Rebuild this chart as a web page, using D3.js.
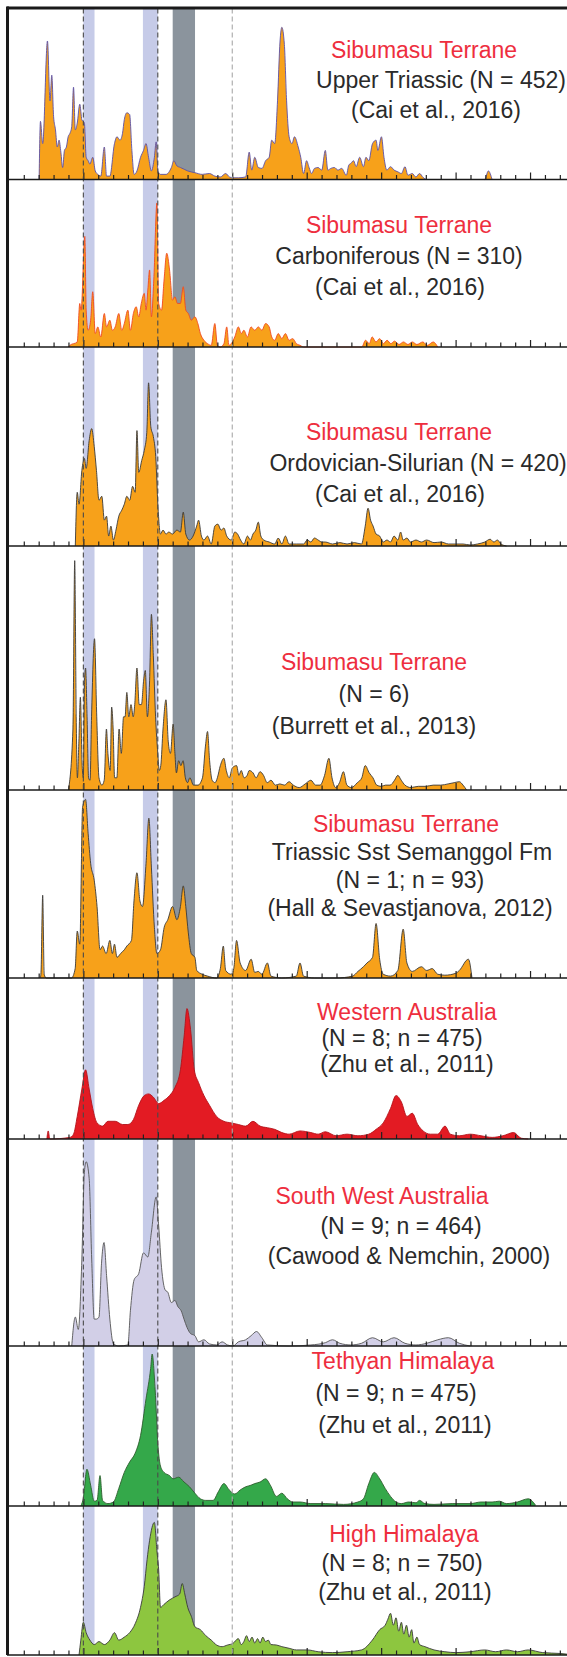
<!DOCTYPE html>
<html>
<head>
<meta charset="utf-8">
<script src="https://cdn.jsdelivr.net/npm/d3@7"></script>
<style>
  body { margin: 0; background: #fff; }
  text { font-family: "Liberation Sans", Arial, sans-serif; }
</style>
</head>
<body>
<script>
// detrital zircon age spectra, age in Ma vs relative probability (1 = full panel height)
const upperTriassic = [[203,0],[212,0.34],[227,0.21],[259,0.81],[276,0.46],[288,0.61],[300,0.37],[313,0.29],[325,0.19],[337,0.23],[349,0.16],[361,0.07],[373,0.17],[386,0.19],[398,0.25],[410,0.27],[422,0.31],[434,0.54],[446,0.29],[459,0.33],[476,0.44],[490,0.35],[507,0.33],[519,0.13],[532,0.11],[544,0.09],[563,0.13],[580,0.05],[597,0.03],[617,0.02],[641,0.19],[656,0.02],[678,0.02],[709,0.21],[726,0.25],[746,0.23],[763,0.27],[775,0.35],[792,0.39],[811,0.38],[826,0.17],[841,0.03],[860,0.05],[884,0.13],[904,0.17],[921,0.21],[938,0.13],[957,0.05],[977,0.13],[989,0.22],[1001,0.05],[1018,0.03],[1055,0.03],[1091,0.07],[1108,0.11],[1128,0.08],[1152,0.07],[1177,0.06],[1201,0.05],[1249,0.04],[1298,0.03],[1347,0.035],[1383,0.02],[1420,0.015],[1456,0.035],[1481,0.015],[1505,0.01],[1541,0.01],[1590,0.015],[1614,0.16],[1631,0.055],[1651,0.13],[1675,0.07],[1700,0.065],[1724,0.11],[1748,0.13],[1765,0.23],[1785,0.21],[1804,0.46],[1821,0.81],[1833,0.89],[1850,0.79],[1865,0.46],[1882,0.25],[1901,0.21],[1918,0.25],[1943,0.19],[1960,0.13],[1979,0.035],[1999,0.11],[2016,0.07],[2033,0.035],[2052,0.065],[2077,0.07],[2101,0.055],[2125,0.17],[2142,0.055],[2162,0.065],[2186,0.07],[2210,0.055],[2235,0.065],[2266,0.025],[2283,0.085],[2296,0.094],[2315,0.11],[2332,0.075],[2356,0.13],[2381,0.075],[2398,0.13],[2417,0.11],[2442,0.21],[2466,0.23],[2478,0.17],[2502,0.25],[2519,0.13],[2538,0.055],[2563,0.075],[2587,0.055],[2612,0.045],[2636,0.035],[2660,0.075],[2680,0.025],[2709,0.035],[2733,0.015],[2758,0.035],[2782,0.012],[2806,0],[3195,0],[3220,0.05],[3245,0]]

const carboniferous = [[400,0],[410,0.01],[459,0.03],[476,0.26],[485,0.22],[510,0.66],[519,0.22],[532,0.1],[549,0.16],[563,0.33],[580,0.08],[597,0.12],[617,0.06],[641,0.2],[656,0.12],[678,0.16],[695,0.1],[714,0.12],[738,0.2],[758,0.1],[775,0.14],[799,0.22],[816,0.1],[836,0.2],[855,0.24],[872,0.18],[889,0.26],[909,0.32],[921,0.22],[933,0.34],[945,0.46],[957,0.18],[974,0.42],[994,0.86],[1006,0.26],[1025,0.22],[1042,0.4],[1060,0.56],[1079,0.46],[1099,0.28],[1115,0.3],[1132,0.26],[1152,0.26],[1171,0.36],[1188,0.22],[1205,0.2],[1225,0.16],[1249,0.18],[1269,0.14],[1286,0.08],[1310,0.04],[1334,0.02],[1359,0.01],[1383,0.14],[1400,0.01],[1420,0],[1444,0.02],[1463,0.12],[1478,0.01],[1493,0.02],[1517,0.06],[1541,0.12],[1561,0.08],[1578,0.1],[1602,0.06],[1626,0.12],[1651,0.1],[1675,0.12],[1699,0.1],[1724,0.14],[1748,0.12],[1765,0.06],[1785,0.04],[1809,0.08],[1833,0.05],[1857,0.08],[1882,0.04],[1906,0.05],[1931,0.02],[1955,0.01],[1979,0],[2370,0],[2395,0.04],[2420,0.02],[2440,0.06],[2465,0.03],[2490,0.05],[2515,0.02],[2540,0.04],[2565,0.02],[2590,0.035],[2620,0.015],[2650,0.03],[2680,0.015],[2710,0.03],[2740,0.015],[2780,0.03],[2810,0.01],[2850,0.03],[2880,0]]

const ordovicianSilurian = [[446,0],[459,0.27],[471,0.21],[490,0.38],[507,0.44],[519,0.39],[539,0.53],[556,0.59],[573,0.5],[588,0.38],[605,0.23],[624,0.25],[641,0.13],[656,0.15],[670,0.05],[685,0.1],[702,0.03],[719,0.08],[738,0.15],[758,0.18],[775,0.21],[792,0.25],[811,0.23],[831,0.3],[848,0.27],[860,0.58],[872,0.37],[892,0.43],[909,0.48],[926,0.57],[938,0.82],[953,0.6],[970,0.55],[986,0.45],[1001,0.2],[1018,0.06],[1035,0.08],[1055,0.06],[1074,0.07],[1099,0.06],[1128,0.08],[1152,0.07],[1171,0.17],[1188,0.06],[1213,0.03],[1237,0.05],[1261,0.1],[1274,0.13],[1293,0.05],[1310,0.03],[1334,0.05],[1359,0.01],[1383,0.1],[1403,0.11],[1425,0.08],[1444,0.09],[1463,0.05],[1493,0.03],[1517,0.07],[1536,0.06],[1556,0.03],[1578,0.01],[1602,0.05],[1622,0.03],[1639,0.06],[1658,0.08],[1675,0.12],[1692,0.05],[1712,0.03],[1748,0.02],[1785,0.01],[1809,0.04],[1833,0.01],[1857,0.05],[1882,0.01],[1931,0.01],[1979,0.01],[2004,0.03],[2028,0.02],[2052,0.04],[2077,0.03],[2101,0.02],[2125,0.02],[2174,0.01],[2223,0.017],[2271,0.01],[2320,0.017],[2368,0.01],[2393,0.1],[2412,0.19],[2429,0.13],[2446,0.1],[2466,0.06],[2490,0.05],[2514,0.02],[2539,0.03],[2563,0.02],[2587,0.05],[2612,0.03],[2631,0.07],[2648,0.03],[2673,0.04],[2697,0.02],[2734,0.03],[2770,0.02],[2806,0.03],[2855,0.017],[2904,0.02],[2952,0.01],[3001,0.01],[3050,0.01],[3098,0.005],[3147,0.01],[3196,0.02],[3232,0.034],[3257,0.02],[3281,0.03],[3305,0.01],[3342,0]]

const burrett = [[400,0],[430,0.25],[442,0.94],[452,0.3],[460,0.05],[470,0.2],[480,0.38],[492,0.1],[500,0.05],[508,0.45],[515,0.5],[525,0.3],[535,0.05],[545,0.04],[555,0.3],[575,0.62],[590,0.3],[605,0.05],[625,0.02],[640,0.04],[655,0.25],[665,0.15],[680,0.08],[690,0.34],[700,0.25],[710,0.05],[725,0.05],[740,0.25],[755,0.15],[770,0.3],[780,0.3],[792,0.4],[805,0.3],[820,0.35],[835,0.3],[845,0.35],[860,0.5],[875,0.35],[890,0.35],[905,0.45],[916,0.49],[930,0.3],[945,0.45],[957,0.72],[970,0.55],[985,0.3],[1000,0.15],[1010,0.08],[1020,0.1],[1035,0.25],[1055,0.37],[1070,0.2],[1085,0.15],[1103,0.27],[1115,0.15],[1125,0.07],[1140,0.12],[1155,0.1],[1170,0.12],[1185,0.05],[1200,0.03],[1215,0.05],[1240,0.02],[1270,0.02],[1300,0.05],[1320,0.18],[1334,0.24],[1348,0.12],[1365,0.04],[1385,0.03],[1400,0.05],[1420,0.1],[1444,0.13],[1460,0.08],[1480,0.05],[1500,0.09],[1529,0.1],[1545,0.06],[1560,0.08],[1580,0.05],[1600,0.06],[1614,0.08],[1640,0.07],[1660,0.05],[1687,0.075],[1710,0.06],[1735,0.03],[1760,0.04],[1790,0.02],[1820,0.025],[1850,0.02],[1882,0.034],[1910,0.02],[1950,0.01],[1990,0.025],[2028,0.04],[2060,0.02],[2090,0.02],[2120,0.06],[2149,0.13],[2170,0.05],[2195,0.01],[2220,0.03],[2247,0.075],[2270,0.02],[2300,0.01],[2340,0.03],[2370,0.05],[2393,0.1],[2420,0.07],[2445,0.05],[2470,0.02],[2500,0.015],[2530,0.02],[2560,0.02],[2590,0.04],[2612,0.06],[2635,0.04],[2660,0.02],[2700,0.01],[2750,0.015],[2800,0.015],[2850,0.02],[2900,0.02],[2950,0.025],[2990,0.03],[3025,0.034],[3050,0.02],[3074,0]]

const semanggol = [[210,0],[215,0.02],[227,0.44],[237,0.02],[250,0],[420,0],[445,0.05],[459,0.25],[476,0.18],[495,0.91],[515,0.95],[532,0.77],[549,0.61],[573,0.52],[592,0.38],[612,0.15],[629,0.17],[653,0.13],[678,0.2],[695,0.13],[709,0.18],[726,0.11],[750,0.13],[775,0.15],[792,0.17],[823,0.2],[840,0.41],[860,0.56],[880,0.41],[897,0.38],[921,0.61],[940,0.85],[957,0.59],[977,0.27],[994,0.13],[1018,0.15],[1043,0.27],[1067,0.31],[1099,0.38],[1128,0.31],[1152,0.38],[1171,0.49],[1188,0.38],[1205,0.24],[1225,0.13],[1249,0.11],[1262,0.04],[1298,0.02],[1334,0.01],[1395,0],[1420,0.05],[1440,0.17],[1456,0.04],[1493,0.02],[1510,0.05],[1529,0.2],[1553,0.08],[1590,0.04],[1627,0.1],[1651,0.03],[1675,0.035],[1699,0.02],[1736,0.08],[1760,0.01],[1833,0],[1930,0.01],[1955,0.08],[1979,0.01],[2052,0],[2198,0],[2308,0.01],[2344,0.035],[2381,0.06],[2405,0.08],[2442,0.11],[2466,0.29],[2490,0.1],[2514,0.02],[2563,0.01],[2612,0.04],[2648,0.26],[2673,0.08],[2709,0.035],[2770,0.06],[2806,0.04],[2843,0.05],[2880,0.02],[2928,0.015],[3001,0.025],[3025,0.04],[3086,0.1],[3110,0]]

const westernAustralia = [[255,0],[264,0.05],[275,0],[410,0.01],[434,0.03],[459,0.14],[490,0.31],[515,0.43],[539,0.31],[563,0.19],[592,0.1],[629,0.08],[665,0.11],[714,0.11],[763,0.09],[799,0.09],[836,0.12],[872,0.21],[909,0.27],[938,0.28],[970,0.26],[1006,0.22],[1042,0.24],[1079,0.27],[1115,0.32],[1152,0.43],[1177,0.64],[1196,0.81],[1220,0.68],[1245,0.43],[1274,0.35],[1310,0.27],[1347,0.21],[1395,0.14],[1444,0.11],[1493,0.1],[1541,0.09],[1590,0.08],[1639,0.11],[1687,0.08],[1736,0.07],[1785,0.06],[1833,0.04],[1882,0.03],[1955,0.05],[2028,0.04],[2077,0.03],[2125,0.045],[2198,0.02],[2271,0.03],[2344,0.02],[2417,0.03],[2466,0.06],[2514,0.1],[2563,0.19],[2600,0.27],[2636,0.23],[2673,0.14],[2709,0.16],[2746,0.09],[2782,0.05],[2831,0.03],[2880,0.03],[2929,0.08],[2965,0.03],[3025,0.02],[3098,0.03],[3171,0.02],[3245,0.01],[3318,0.02],[3390,0.04],[3440,0.005],[3488,0]]

const southWestAustralia = [[422,0],[446,0.14],[466,0.08],[490,0.42],[507,0.84],[519,0.89],[539,0.81],[556,0.42],[573,0.13],[588,0.13],[605,0.14],[622,0.4],[639,0.5],[656,0.34],[678,0.13],[702,0.01],[738,0],[799,0.005],[816,0.17],[841,0.32],[872,0.35],[904,0.45],[933,0.43],[957,0.55],[989,0.72],[1006,0.58],[1025,0.38],[1050,0.27],[1067,0.26],[1091,0.21],[1115,0.22],[1135,0.19],[1157,0.17],[1176,0.13],[1196,0.09],[1220,0.06],[1249,0.05],[1274,0.02],[1310,0.03],[1347,0.01],[1395,0.005],[1432,0.02],[1468,0.005],[1505,0],[1541,0.02],[1590,0.03],[1627,0.05],[1663,0.07],[1699,0.04],[1736,0.005],[1882,0],[2028,0.005],[2125,0.016],[2174,0.03],[2223,0.013],[2296,0.005],[2368,0.013],[2442,0.04],[2514,0.02],[2587,0.04],[2660,0.013],[2734,0.005],[2806,0.013],[2880,0.03],[2952,0.04],[3025,0.013],[3098,0]]

const tethyanHimalaya = [[483,0],[500,0.05],[524,0.23],[549,0.13],[573,0.03],[592,0.035],[612,0.19],[629,0.035],[665,0.015],[702,0.025],[738,0.11],[775,0.21],[811,0.275],[848,0.33],[884,0.44],[921,0.67],[952,0.86],[962,0.95],[982,0.73],[1001,0.38],[1018,0.25],[1042,0.21],[1079,0.19],[1103,0.17],[1140,0.18],[1176,0.15],[1213,0.12],[1249,0.08],[1286,0.045],[1322,0.035],[1371,0.035],[1407,0.09],[1444,0.14],[1480,0.1],[1517,0.075],[1553,0.1],[1590,0.12],[1626,0.13],[1651,0.14],[1687,0.15],[1724,0.17],[1756,0.13],[1797,0.06],[1833,0.08],[1870,0.045],[1906,0.025],[1955,0.025],[2028,0.015],[2125,0.015],[2247,0.01],[2344,0.025],[2381,0.045],[2417,0.14],[2454,0.21],[2490,0.17],[2527,0.11],[2563,0.06],[2600,0.025],[2636,0.015],[2685,0.025],[2734,0.02],[2758,0.035],[2794,0.015],[2855,0.01],[2977,0.015],[3098,0.015],[3171,0.025],[3245,0.025],[3293,0.03],[3342,0.015],[3415,0.025],[3488,0.045],[3537,0.005]]

const highHimalaya = [[471,0],[483,0.1],[500,0.22],[519,0.15],[544,0.1],[573,0.07],[605,0.09],[641,0.07],[678,0.1],[709,0.15],[738,0.1],[775,0.12],[811,0.15],[848,0.21],[884,0.32],[909,0.46],[928,0.64],[945,0.77],[977,0.89],[994,0.7],[1006,0.57],[1018,0.32],[1042,0.34],[1079,0.37],[1115,0.39],[1147,0.41],[1164,0.48],[1181,0.41],[1201,0.32],[1225,0.26],[1249,0.19],[1286,0.17],[1322,0.13],[1359,0.1],[1395,0.067],[1432,0.056],[1468,0.067],[1505,0.078],[1541,0.11],[1560,0.07],[1578,0.09],[1596,0.13],[1614,0.09],[1633,0.12],[1651,0.08],[1670,0.11],[1687,0.08],[1705,0.12],[1724,0.09],[1742,0.1],[1760,0.07],[1797,0.067],[1833,0.056],[1882,0.045],[1931,0.034],[2004,0.034],[2077,0.022],[2174,0.016],[2271,0.022],[2368,0.034],[2441,0.1],[2490,0.17],[2527,0.2],[2545,0.24],[2563,0.28],[2582,0.2],[2600,0.25],[2618,0.16],[2636,0.22],[2652,0.14],[2670,0.2],[2688,0.12],[2705,0.17],[2720,0.08],[2740,0.12],[2758,0.07],[2794,0.056],[2855,0.034],[2928,0.022],[3001,0.016],[3098,0.022],[3196,0.034],[3269,0.022],[3342,0.034],[3415,0.022],[3488,0.034],[3585,0.016],[3706,0.01],[3800,0]]

const series = [upperTriassic, carboniferous, ordovicianSilurian, burrett, semanggol,
  westernAustralia, southWestAustralia, tethyanHimalaya, highHimalaya]

const titles = ['Sibumasu Terrane', 'Sibumasu Terrane', 'Sibumasu Terrane', 'Sibumasu Terrane',
  'Sibumasu Terrane', 'Western Australia', 'South West Australia', 'Tethyan Himalaya', 'High Himalaya']

const subtitles = [
  ['Upper Triassic (N = 452)', '(Cai et al., 2016)'],
  ['Carboniferous (N = 310)', '(Cai et al., 2016)'],
  ['Ordovician-Silurian (N = 420)', '(Cai et al., 2016)'],
  ['(N = 6)', '(Burrett et al., 2013)'],
  ['Triassic Sst Semanggol Fm', '(N = 1; n = 93)', '(Hall & Sevastjanova, 2012)'],
  ['(N = 8; n = 475)', '(Zhu et al., 2011)'],
  ['(N = 9; n = 464)', '(Cawood & Nemchin, 2000)'],
  ['(N = 9; n = 475)', '(Zhu et al., 2011)'],
  ['(N = 8; n = 750)', '(Zhu et al., 2011)']
]

// age bands (Ma) and reference lines
const blueBands = [[500, 575], [900, 1000]]
const greyBands = [[1100, 1250]]
const refLines = [500, 1000, 1500]
const tickAges = d3.range(100, 3800, 100)

// ---- layout / styles ----
const width = 567
const height = 1657
const bottoms = [179.5, 347, 546, 790, 978, 1139, 1346, 1506, 1655]
const top0 = 8.5
const fills = ['#f7a11a', '#f7a11a', '#f7a11a', '#f7a11a', '#f7a11a', '#e31b23', '#d2cfe7', '#34a84a', '#8dc63f']
const strokes = ['#5a50a8', '#f04a23', '#3a3a3a', '#3a3a3a', '#3a3a3a', '#b3121a', '#555', '#2e5e2e', '#3a3a3a']
// text anchors: [title x, line x...] and first line centre y, line step
const textX = [[424, 441, 436], [399, 399, 400], [399, 418, 400], [374, 374, 374], [406, 412, 410, 410],
  [407, 402, 407], [382, 401, 409], [403, 396, 405], [404, 402, 405]]
const textY = [50, 225, 432, 662, 824, 1012, 1196, 1361, 1534]
const textStep = [30, 31, 31, 32, 28, 26, 30, 32, 29]

const x = d3.scaleLinear()
  .domain([0, 3800])
  .range([8.9, 8.9 + 3800 * 0.1489])

const svg = d3.select('body').append('svg')
  .attr('width', width)
  .attr('height', height)

// full height bands
const bandG = svg.append('g')
bandG.selectAll('rect.blue')
  .data(blueBands)
  .enter().append('rect')
  .attr('class', 'blue')
  .attr('x', function (d) { return x(d[0]) })
  .attr('width', function (d) { return x(d[1]) - x(d[0]) })
  .attr('y', top0)
  .attr('height', bottoms[8] - top0)
  .attr('fill', '#c6cbe8')
bandG.selectAll('rect.grey')
  .data(greyBands)
  .enter().append('rect')
  .attr('class', 'grey')
  .attr('x', function (d) { return x(d[0]) })
  .attr('width', function (d) { return x(d[1]) - x(d[0]) })
  .attr('y', top0)
  .attr('height', bottoms[8] - top0)
  .attr('fill', '#8b949d')

series.forEach(function (data, i) {
  const top = i === 0 ? top0 : bottoms[i - 1]
  const y = d3.scaleLinear()
    .domain([0, 1])
    .range([bottoms[i], top])

  const area = d3.area()
    .curve(d3.curveMonotoneX)
    .x(function (d) { return x(d[0]) })
    .y0(bottoms[i])
    .y1(function (d) { return y(d[1]) })

  const line = d3.line()
    .curve(d3.curveMonotoneX)
    .x(function (d) { return x(d[0]) })
    .y(function (d) { return y(d[1]) })

  const g = svg.append('g')
  g.append('path')
    .datum(data)
    .attr('d', area)
    .attr('fill', fills[i])
  g.append('path')
    .datum(data)
    .attr('d', line)
    .attr('fill', 'none')
    .attr('stroke', strokes[i])
    .attr('stroke-width', 0.9)
    .attr('stroke-linejoin', 'round')

  // ticks along the base
  const axis = d3.axisTop(x)
    .tickValues(tickAges)
    .tickSize(0)
    .tickFormat('')
  const ax = g.append('g')
    .attr('transform', 'translate(0,' + bottoms[i] + ')')
    .call(axis)
  ax.select('.domain').remove()
  ax.selectAll('.tick text').remove()
  ax.selectAll('.tick line')
    .attr('y2', function (d) { return d % 500 === 0 ? -7 : -4.5 })
    .attr('stroke', '#222')
    .attr('stroke-width', 1.2)

  // labels
  const lines = [titles[i]].concat(subtitles[i])
  g.selectAll('text.label')
    .data(lines)
    .enter().append('text')
    .attr('class', 'label')
    .attr('x', function (d, k) { return textX[i][k] })
    .attr('y', function (d, k) { return textY[i] + k * textStep[i] })
    .attr('dy', '0.35em')
    .attr('text-anchor', 'middle')
    .attr('font-size', 23)
    .attr('fill', function (d, k) { return k === 0 ? '#ee2e3e' : '#2a2a2a' })
    .text(function (d) { return d })
})

// dashed reference lines on top
svg.selectAll('line.ref')
  .data(refLines)
  .enter().append('line')
  .attr('class', 'ref')
  .attr('x1', function (d) { return x(d) })
  .attr('x2', function (d) { return x(d) })
  .attr('y1', top0)
  .attr('y2', bottoms[8])
  .attr('stroke', function (d) { return d === 1500 ? '#a8a8a8' : '#4a4a4a' })
  .attr('stroke-width', 1.1)
  .attr('stroke-dasharray', '5,3')

// panel base lines
svg.selectAll('line.base')
  .data(bottoms)
  .enter().append('line')
  .attr('class', 'base')
  .attr('x1', 7)
  .attr('x2', width)
  .attr('y1', function (d) { return d })
  .attr('y2', function (d) { return d })
  .attr('stroke', '#1a1a1a')
  .attr('stroke-width', 1.6)

// frame
svg.append('line')
  .attr('x1', 7).attr('x2', width)
  .attr('y1', top0 - 0.5).attr('y2', top0 - 0.5)
  .attr('stroke', '#1a1a1a').attr('stroke-width', 3)
svg.append('line')
  .attr('x1', 7.5).attr('x2', 7.5)
  .attr('y1', top0 - 2).attr('y2', bottoms[8])
  .attr('stroke', '#1a1a1a').attr('stroke-width', 3)
</script>
</body>
</html>
